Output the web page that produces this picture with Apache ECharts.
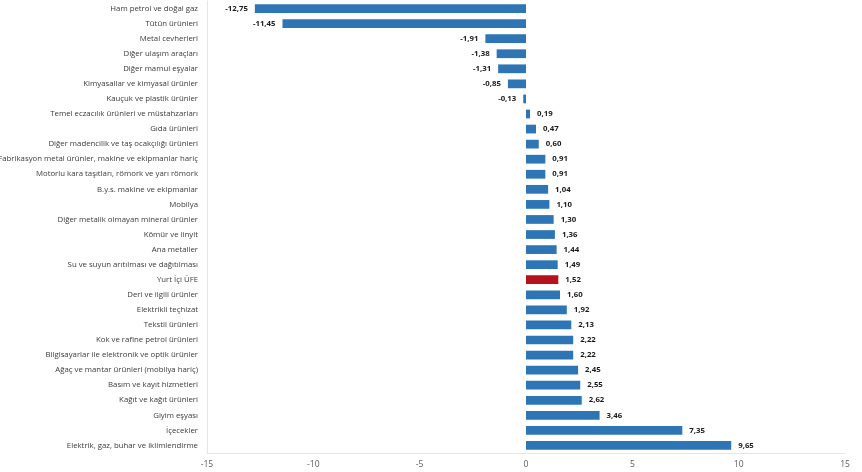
<!DOCTYPE html>
<html>
<head>
<meta charset="utf-8">
<script src="https://cdn.jsdelivr.net/npm/echarts@6/dist/echarts.min.js"></script>
<style>
  html, body { margin: 0; padding: 0; background: #fff; }
  #chart { width: 862px; height: 472px; }
</style>
</head>
<body>
<div id="chart"></div>
<script>
var categories = [
    'Ham petrol ve doğal gaz', 'Tütün ürünleri', 'Metal cevherleri', 'Diğer ulaşım araçları',
    'Diğer mamul eşyalar', 'Kimyasallar ve kimyasal ürünler', 'Kauçuk ve plastik ürünler',
    'Temel eczacılık ürünleri ve müstahzarları', 'Gıda ürünleri',
    'Diğer madencilik ve taş ocakçılığı ürünleri',
    'Fabrikasyon metal ürünler, makine ve ekipmanlar hariç',
    'Motorlu kara taşıtları, römork ve yarı römork', 'B.y.s. makine ve ekipmanlar', 'Mobilya',
    'Diğer metalik olmayan mineral ürünler', 'Kömür ve linyit', 'Ana metaller',
    'Su ve suyun arıtılması ve dağıtılması', 'Yurt İçi ÜFE', 'Deri ve ilgili ürünler',
    'Elektrikli teçhizat', 'Tekstil ürünleri', 'Kok ve rafine petrol ürünleri',
    'Bilgisayarlar ile elektronik ve optik ürünler', 'Ağaç ve mantar ürünleri (mobilya hariç)',
    'Basım ve kayıt hizmetleri', 'Kağıt ve kağıt ürünleri', 'Giyim eşyası', 'İçecekler',
    'Elektrik, gaz, buhar ve iklimlendirme'
];
var values = [
    -12.75, -11.45, -1.91, -1.38, -1.31, -0.85, -0.13, 0.19, 0.47, 0.60,
    0.91, 0.91, 1.04, 1.10, 1.30, 1.36, 1.44, 1.49, 1.52, 1.60,
    1.92, 2.13, 2.22, 2.22, 2.45, 2.55, 2.62, 3.46, 7.35, 9.65
];
var highlight = 'Yurt İçi ÜFE';

var FONT = '"Open Sans", "Noto Sans", sans-serif';

var seriesData = values.map(function (v, i) {
    return {
        value: v,
        itemStyle: { color: categories[i] === highlight ? '#B5121B' : '#2E75B6' },
        label: { position: v < 0 ? 'left' : 'right' }
    };
});

var myChart = echarts.init(document.getElementById('chart'));
var option = {
    animation: false,
    grid: { left: 207, right: 17, top: 1, bottom: 19, containLabel: false, outerBoundsMode: 'none' },
    xAxis: {
        type: 'value',
        min: -15,
        max: 15,
        interval: 5,
        splitLine: { show: false },
        axisLine: { show: true, lineStyle: { color: '#e6e6e6' } },
        axisTick: { show: false },
        axisLabel: { color: '#595959', fontSize: 8.5, fontFamily: FONT, margin: 7 }
    },
    yAxis: {
        type: 'category',
        data: categories,
        inverse: true,
        axisLine: { show: true, onZero: false, lineStyle: { color: '#e6e6e6' } },
        axisTick: { show: false },
        axisLabel: { color: '#3a3a3a', fontSize: 7.8, fontFamily: FONT, margin: 9 }
    },
    series: [{
        type: 'bar',
        data: seriesData,
        barWidth: '58%',
        label: {
            show: true,
            distance: 7,
            color: '#1a1a1a',
            fontSize: 7.8,
            fontWeight: 'bold',
            fontFamily: FONT,
            formatter: function (p) { return p.value.toFixed(2).replace('.', ','); }
        }
    }]
};

myChart.setOption(option);
</script>
</body>
</html>
